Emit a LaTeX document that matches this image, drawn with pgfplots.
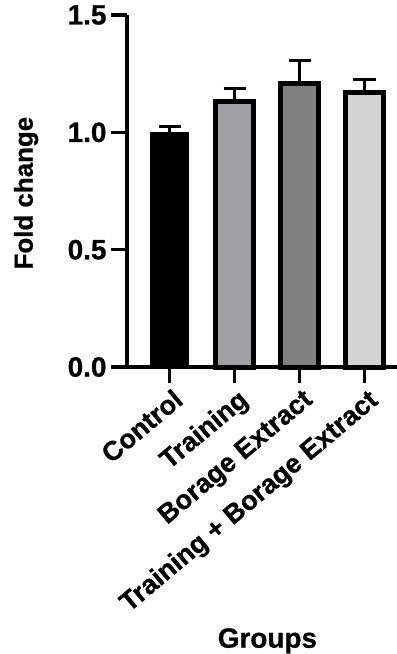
\documentclass[border=0pt]{standalone}
\usepackage{pgfplots}
\pgfplotsset{compat=1.18}
\usepackage{fontspec}
\setmainfont{Liberation Sans}[BoldFeatures={FakeBold=0.8}]
\definecolor{trainc}{HTML}{A0A0A4}
\definecolor{boragec}{HTML}{808080}
\definecolor{tbc}{HTML}{D4D4D4}
\begin{document}
\begin{tikzpicture}
\begin{axis}[
  at={(0,0)}, anchor=south west,
  width=270bp, height=352bp, scale only axis,
  xmin=-0.654, xmax=3.5, ymin=0, ymax=1.5,
  clip=false,
  axis lines=left,
  axis line style={-, line width=4bp, black},
  tick style={line width=3.5bp, black},
  major tick length=16bp,
  tick align=outside,
  xtick={0,1,2,3},
  xticklabels={Control, Training, Borage Extract, Training + Borage Extract},
  ytick={0,0.5,1,1.5},
  /pgf/number format/assume math mode=true,
  yticklabel style={/pgf/number format/fixed, /pgf/number format/fixed zerofill, /pgf/number format/precision=1,
    font=\fontsize{28}{32}\selectfont\bfseries, xshift=-1bp},
  xticklabel style={font=\fontsize{27}{31}\selectfont\bfseries, rotate=40, anchor=north east, inner sep=1bp, xshift=0bp, yshift=-4bp},
  ylabel={Fold change},
  ylabel style={font=\fontsize{26}{30}\selectfont\bfseries, at={(axis description cs:-0.374,0.494)}, anchor=center},
  xlabel={Groups},
  xlabel style={font=\fontsize{28}{32}\selectfont\bfseries, at={(axis description cs:0.52,-0.778)}, anchor=center},
  ybar, bar width=38bp,
  error bars/y dir=plus, error bars/y explicit,
  error bars/error bar style={line width=3bp, black},
  error bars/error mark options={rotate=90, mark size=11bp, line width=3bp, black},
]
\addplot[ybar, bar shift=0pt, fill=black, draw=black, line width=1bp] coordinates {(0,1.00) +- (0,0.025)};
\addplot[ybar, bar shift=0pt, fill=trainc, draw=black, line width=5bp] coordinates {(1,1.13) +- (0,0.055)};
\addplot[ybar, bar shift=0pt, fill=boragec, draw=black, line width=5bp] coordinates {(2,1.21) +- (0,0.095)};
\addplot[ybar, bar shift=0pt, fill=tbc, draw=black, line width=5bp] coordinates {(3,1.17) +- (0,0.055)};
\end{axis}
\pgfresetboundingbox
\path (-127bp,-287bp) rectangle (270bp,367bp);
\end{tikzpicture}
\end{document}
